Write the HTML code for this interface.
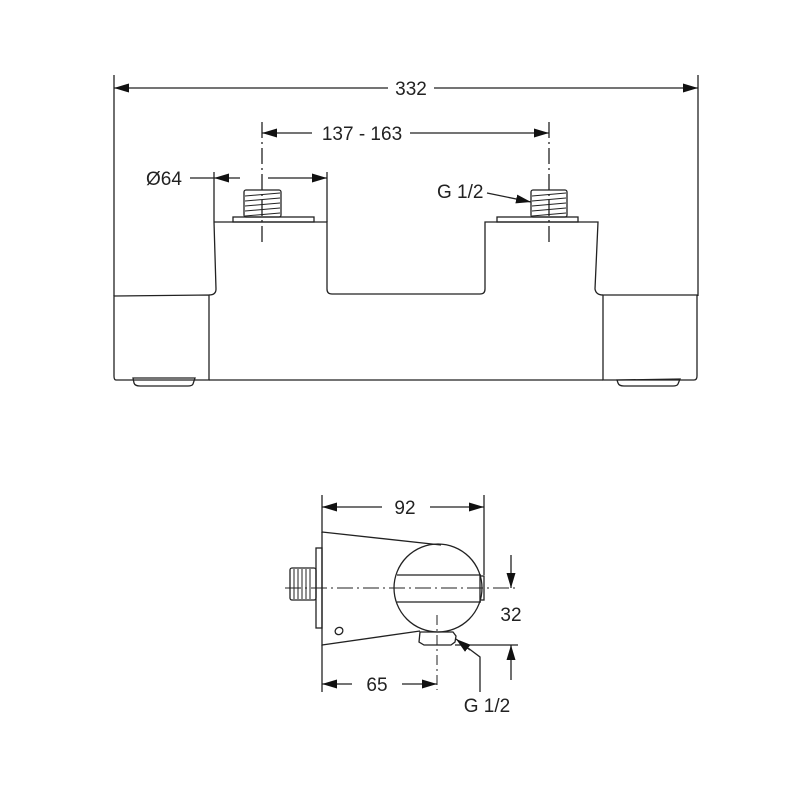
<!DOCTYPE html>
<html><head><meta charset="utf-8"><style>html,body{margin:0;padding:0;background:#fff}svg{display:block}</style></head>
<body>
<svg width="800" height="800" viewBox="0 0 800 800" xmlns="http://www.w3.org/2000/svg" font-family="Liberation Sans, Arial, sans-serif" font-size="19" fill="none" stroke="#222" stroke-width="1.3">
<defs>
<marker id="a" viewBox="0 0 15 9" refX="15" refY="4.5" markerWidth="15" markerHeight="9" markerUnits="userSpaceOnUse" orient="auto-start-reverse"><path d="M0,0L15,4.5L0,9z" fill="#111" stroke="none"/></marker>
</defs>
<!-- 332 -->
<line x1="114" y1="75" x2="114" y2="296"/>
<line x1="698" y1="75" x2="698" y2="296"/>
<line x1="114" y1="88" x2="388" y2="88" marker-start="url(#a)"/>
<line x1="434" y1="88" x2="698" y2="88" marker-end="url(#a)"/>
<text x="411" y="95" fill="#222" stroke="none" text-anchor="middle">332</text>
<!-- 137-163 -->
<line x1="262" y1="122" x2="262" y2="245" stroke-dasharray="16,4,2,4"/>
<line x1="549" y1="122" x2="549" y2="245" stroke-dasharray="16,4,2,4"/>
<line x1="262" y1="133" x2="312" y2="133" marker-start="url(#a)"/>
<line x1="410" y1="133" x2="549" y2="133" marker-end="url(#a)"/>
<text x="362" y="140" fill="#222" stroke="none" text-anchor="middle">137 - 163</text>
<!-- Ø64 -->
<text x="146" y="185" fill="#222" stroke="none">Ø64</text>
<line x1="190" y1="178" x2="214" y2="178"/>
<line x1="214" y1="172" x2="214" y2="222"/>
<line x1="327" y1="172" x2="327" y2="222"/>
<line x1="240" y1="178" x2="214" y2="178" marker-end="url(#a)"/>
<line x1="268" y1="178" x2="327" y2="178" marker-end="url(#a)"/>
<!-- left fitting -->
<rect x="233" y="217" width="81" height="5"/>
<rect x="244" y="190" width="37" height="27" rx="2"/>
<g stroke-width="1"><line x1="245" y1="196" x2="280" y2="193"/><line x1="245" y1="201" x2="280" y2="198"/><line x1="245" y1="206" x2="280" y2="203"/><line x1="245" y1="211" x2="280" y2="208"/><line x1="245" y1="216" x2="280" y2="213"/></g>
<!-- right fitting -->
<rect x="497" y="217" width="81" height="5"/>
<rect x="531" y="190" width="36" height="27" rx="2"/>
<g stroke-width="1"><line x1="532" y1="196" x2="566" y2="193"/><line x1="532" y1="201" x2="566" y2="198"/><line x1="532" y1="206" x2="566" y2="203"/><line x1="532" y1="211" x2="566" y2="208"/><line x1="532" y1="216" x2="566" y2="213"/></g>
<text x="437" y="198" fill="#222" stroke="none">G 1/2</text>
<line x1="487" y1="193" x2="531" y2="202" marker-end="url(#a)"/>
<!-- body outline -->
<path d="M214,222 L327,222 L327,289 Q327,294 332,294 L480,294 Q485,294 485,289 L485,222 L598,222 L595,289 Q596,295 603,295"/>
<path d="M214,222 L216,289 Q216,295 209,295"/>
<path d="M114,296 L209,295 L209,380 L116,380 Q114,380 114,376 Z"/>
<line x1="209" y1="380" x2="603" y2="380"/>
<path d="M603,295 L697,295 L697,376 Q697,380 694,380 L603,380 Z"/>
<path d="M133,378 L195,378 L193,384 Q192,386 188,386 L140,386 Q135,386 134,383 Z"/>
<path d="M617,380 L680,379 L678,384 Q677,386 673,386 L624,386 Q619,386 618,383 Z"/>
<!-- bottom view -->
<line x1="322" y1="495" x2="322" y2="533"/>
<line x1="484" y1="495" x2="484" y2="575"/>
<line x1="322" y1="507" x2="382" y2="507" marker-start="url(#a)"/>
<line x1="430" y1="507" x2="484" y2="507" marker-end="url(#a)"/>
<text x="405" y="514" fill="#222" stroke="none" text-anchor="middle">92</text>
<rect x="316" y="548" width="6" height="80"/>
<rect x="290" y="568" width="26" height="32" rx="2"/>
<g stroke-width="1"><line x1="294" y1="569" x2="294" y2="599"/><line x1="298" y1="569" x2="298" y2="599"/><line x1="302" y1="569" x2="302" y2="599"/><line x1="306" y1="569" x2="306" y2="599"/><line x1="310" y1="569" x2="310" y2="599"/></g>
<path d="M322,532 L322,645 L420,631"/>
<line x1="322" y1="532" x2="441" y2="545"/>
<circle cx="438" cy="588" r="44"/>
<line x1="397" y1="575" x2="481" y2="575"/>
<line x1="397" y1="602" x2="481" y2="602"/>
<rect x="480" y="576" width="4" height="24"/>
<ellipse cx="339" cy="631" rx="4" ry="3.5" transform="rotate(-30 339 631)"/>
<path d="M420,632 L453,632 L456,636 L455,642 L451,645 L424,645 L419,642 Z"/>
<line x1="285" y1="588" x2="516" y2="588" stroke-dasharray="16,4,2,4" stroke-width="1"/>
<line x1="437" y1="615" x2="437" y2="690" stroke-dasharray="10,4,2,4" stroke-width="1"/>
<line x1="322" y1="645" x2="322" y2="692"/>
<line x1="322" y1="684" x2="352" y2="684" marker-start="url(#a)"/>
<line x1="402" y1="684" x2="437" y2="684" marker-end="url(#a)"/>
<text x="377" y="691" fill="#222" stroke="none" text-anchor="middle">65</text>
<line x1="455" y1="645" x2="518" y2="645"/>
<line x1="511" y1="555" x2="511" y2="588" marker-end="url(#a)"/>
<line x1="511" y1="680" x2="511" y2="645" marker-end="url(#a)"/>
<text x="511" y="621" fill="#222" stroke="none" text-anchor="middle">32</text>
<path d="M480,692 L480,657 L468,648" />
<line x1="470" y1="650" x2="456" y2="639" marker-end="url(#a)"/>
<text x="487" y="712" fill="#222" stroke="none" text-anchor="middle">G 1/2</text>
</svg>
</body></html>
